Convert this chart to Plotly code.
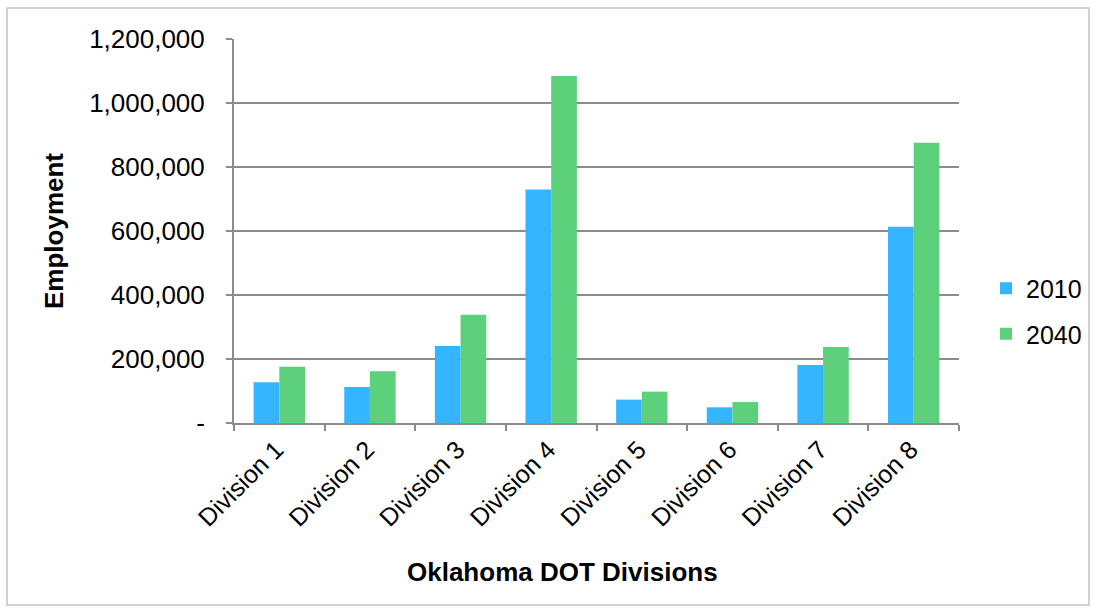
import plotly.graph_objects as go

divisions = ["Division 1", "Division 2", "Division 3", "Division 4",
             "Division 5", "Division 6", "Division 7", "Division 8"]
emp_2010 = [127000, 112500, 240500, 730000, 73000, 49000, 181000, 613500]
emp_2040 = [176000, 161500, 338000, 1084000, 98000, 65500, 237500, 876000]

y_ticks = [0, 200000, 400000, 600000, 800000, 1000000, 1200000]
y_tick_text = ["-", "200,000", "400,000", "600,000", "800,000", "1,000,000", "1,200,000"]

FONT = "Liberation Sans, Arial, sans-serif"
AXIS_GREY = "#8c8c8c"

fig = go.Figure()
fig.add_trace(go.Bar(name="2010", x=divisions, y=emp_2010, legendgroup="a",
                     marker=dict(color="#33B6FF", line=dict(width=0))))
fig.add_trace(go.Bar(name="2040", x=divisions, y=emp_2040, legendgroup="b",
                     marker=dict(color="#5CD07A", line=dict(width=0))))

W, H = 1094, 609
L, R, T, B = 234, 135, 39, 186
pw, ph = W - L - R, H - T - B

# light grey frame around the whole chart
fig.add_shape(type="rect", xref="paper", yref="paper",
              x0=(7 - L) / pw, x1=(1089 - L) / pw,
              y0=-(605 - (H - B)) / ph, y1=((H - B) - 8) / ph,
              line=dict(color="#c4c4c4", width=1.5), layer="below")

# x-axis title sits slightly left of the plot centre
fig.add_annotation(text="<b>Oklahoma DOT Divisions</b>", xref="paper", yref="paper",
                   x=(562 - L) / pw, y=-(572 - (H - B)) / ph,
                   xanchor="center", yanchor="middle", showarrow=False,
                   font=dict(size=26, family=FONT, color="black"))

fig.update_layout(
    width=W, height=H,
    margin=dict(l=L, r=R, t=T, b=B, autoexpand=False),
    paper_bgcolor="white", plot_bgcolor="white",
    barmode="group", bargap=0.433, bargroupgap=0,
    font=dict(family=FONT, size=24, color="black"),
    legend=dict(x=(986 - L) / pw, y=(423 - 311) / ph, xanchor="left", yanchor="middle",
                font=dict(size=25), itemwidth=30, traceorder="grouped",
                tracegroupgap=10, bgcolor="rgba(0,0,0,0)"),
    showlegend=True,
    xaxis=dict(
        tickangle=-45, tickfont=dict(size=25), ticklabelshift=-3,
        showline=True, linecolor=AXIS_GREY, linewidth=2,
        ticks="outside", ticklen=6, tickcolor=AXIS_GREY, tickwidth=2,
        tickson="boundaries", showgrid=False,
    ),
    yaxis=dict(
        title=dict(text="<b>Employment</b>", font=dict(size=26), standoff=18),
        range=[0, 1200000], tickvals=y_ticks, ticktext=y_tick_text,
        tickfont=dict(size=26), ticklabelstandoff=16,
        showline=True, linecolor=AXIS_GREY, linewidth=2,
        ticks="outside", ticklen=6, tickcolor=AXIS_GREY, tickwidth=2,
        showgrid=True, gridcolor=AXIS_GREY, gridwidth=2,
        zeroline=False,
    ),
)

fig.write_html("out.html")
